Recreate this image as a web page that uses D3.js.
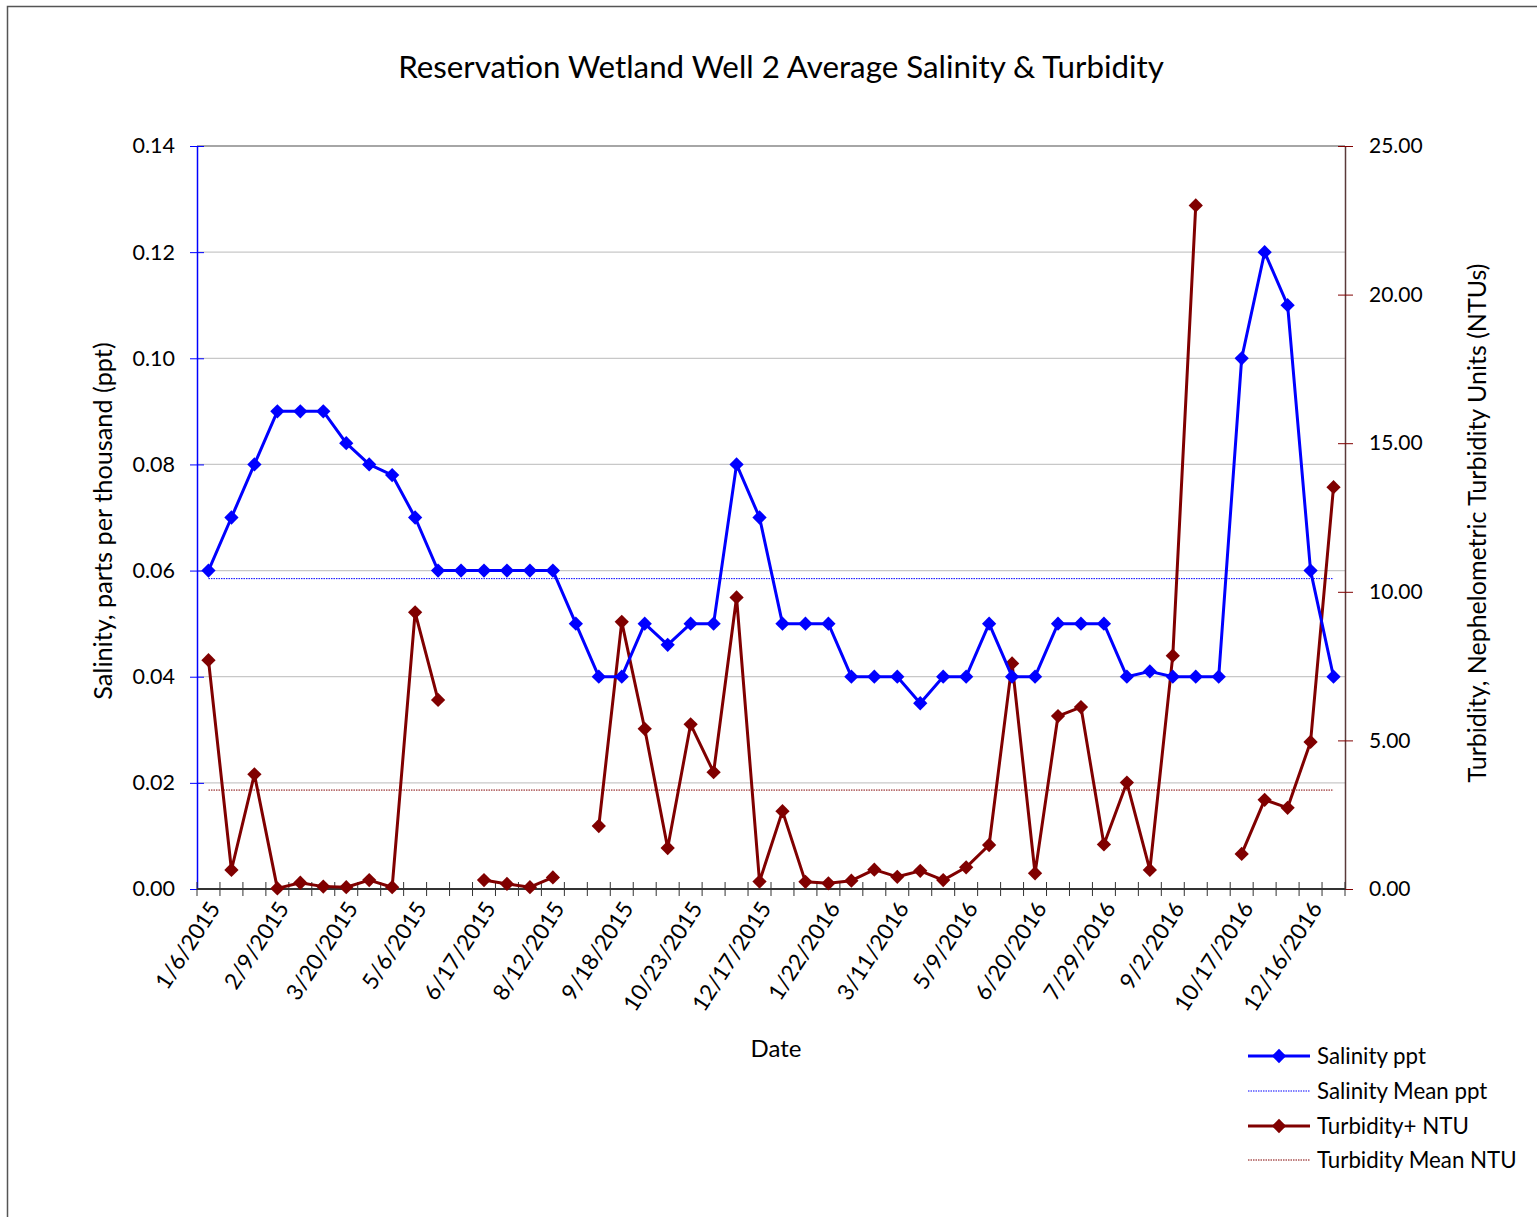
<!DOCTYPE html>
<html>
<head>
<meta charset="utf-8">
<script src="https://cdn.jsdelivr.net/npm/d3@7"></script>
<style>
  html, body { margin: 0; padding: 0; background: #fff; }
  svg { display: block; }
  text { font-family: Lato, "Open Sans", sans-serif; fill: #000; }
</style>
</head>
<body>
<svg id="chart" width="1537" height="1217"></svg>
<script>
// ---------------- data ----------------
const chartTitle = "Reservation Wetland Well 2 Average Salinity & Turbidity";
// labelled dates (every third sampling date is labelled on the axis)
const tickLabels = ["1/6/2015","2/9/2015","3/20/2015","5/6/2015","6/17/2015","8/12/2015",
  "9/18/2015","10/23/2015","12/17/2015","1/22/2016","3/11/2016","5/9/2016","6/20/2016",
  "7/29/2016","9/2/2016","10/17/2016","12/16/2016"];
const labelEvery = 3;
// salinity (ppt), one value per sampling date
const salinity = [0.06,0.07,0.08,0.09,0.09,0.09,0.084,0.08,0.078,0.07,
  0.06,0.06,0.06,0.06,0.06,0.06,0.05,0.04,0.04,0.05,
  0.046,0.05,0.05,0.08,0.07,0.05,0.05,0.05,0.04,0.04,
  0.04,0.035,0.04,0.04,0.05,0.04,0.04,0.05,0.05,0.05,
  0.04,0.041,0.04,0.04,0.04,0.10,0.12,0.11,0.06,0.04];
// turbidity (NTU), null = no reading
const turbidity = [7.70,0.64,3.86,0.02,0.21,0.08,0.06,0.30,0.06,9.31,
  6.36,null,0.30,0.17,0.06,0.39,null,2.12,8.99,5.39,
  1.38,5.54,3.93,9.81,0.25,2.62,0.24,0.19,0.28,0.65,
  0.41,0.61,0.30,0.73,1.48,7.59,0.53,5.82,6.12,1.50,
  3.58,0.64,7.85,23.0,null,1.18,3.00,2.73,4.95,13.52];
const salTicks = [0,0.02,0.04,0.06,0.08,0.10,0.12,0.14];
const turbTicks = [0,5,10,15,20,25];
const legendItems = ["Salinity ppt","Salinity Mean ppt","Turbidity+ NTU","Turbidity Mean NTU"];

// ---------------- layout ----------------
const svg = d3.select("#chart");
const L = 197, R = 1345, T = 146, B = 889;
const blue = "#0000FF", red = "#800000";
const categories = salinity.map((d, i) => i);

const x = d3.scaleBand().domain(categories).range([L, R]).paddingInner(0).paddingOuter(0);
const cx = i => x(i) + x.bandwidth() / 2;
const yL = d3.scaleLinear().domain([0, 0.14]).range([B, T]);
const yR = d3.scaleLinear().domain([0, 25]).range([B, T]);

// outer frame
svg.append("path").attr("d", `M7.5,1217 V6.5 H1537`).attr("fill", "none")
  .attr("stroke", "#555").attr("stroke-width", 1.5);

// title
svg.append("text").attr("x", 781).attr("y", 78).attr("text-anchor", "middle")
  .style("font-size", "31.3px").text(chartTitle);

// gridlines
svg.append("g").selectAll("line").data(salTicks.filter(t => t > 0 && t < 0.14)).join("line")
  .attr("x1", L).attr("x2", R).attr("y1", d => yL(d)).attr("y2", d => yL(d))
  .attr("stroke", "#c8c8c8").attr("stroke-width", 1.2);
// top border
svg.append("line").attr("x1", L).attr("x2", R).attr("y1", T).attr("y2", T)
  .attr("stroke", "#888").attr("stroke-width", 1.5);

// left axis
const axL = svg.append("g").attr("transform", `translate(${L},0)`)
  .call(d3.axisLeft(yL).tickValues(salTicks).tickFormat(d3.format(".2f")).tickSizeInner(7).tickSizeOuter(0));
axL.select(".domain").attr("stroke", blue).attr("stroke-width", 1.5);
axL.selectAll(".tick line").attr("stroke", blue).attr("x2", -7).attr("x1", 7);
axL.selectAll(".tick text").attr("x", -22).style("font-size", "21.5px").style("font-family", "Lato").attr("fill", "#000");

// right axis
const axR = svg.append("g").attr("transform", `translate(${R},0)`)
  .call(d3.axisRight(yR).tickValues(turbTicks).tickFormat(d3.format(".2f")).tickSizeInner(7).tickSizeOuter(0));
axR.select(".domain").attr("stroke", "#5a3a3a").attr("stroke-width", 1.5);
axR.selectAll(".tick line").attr("stroke", red).attr("x1", -7).attr("x2", 8);
axR.selectAll(".tick text").attr("x", 24).style("font-size", "21px").style("font-family", "Lato").attr("fill", "#000");

// bottom axis line and boundary ticks
const boundaries = categories.map(i => x(i)).concat([R]);
svg.append("g").selectAll("line").data(boundaries).join("line")
  .attr("x1", d => d).attr("x2", d => d).attr("y1", B - 7).attr("y2", B + 7)
  .attr("stroke", "#333").attr("stroke-width", 1);
svg.append("line").attr("x1", L).attr("x2", R).attr("y1", B).attr("y2", B)
  .attr("stroke", "#333").attr("stroke-width", 2);

// x tick labels
svg.append("g").selectAll("text").data(tickLabels).join("text")
  .attr("text-anchor", "end")
  .attr("transform", (d, k) => `translate(${cx(k * labelEvery) + 6},${B + 15}) rotate(-57)`)
  .attr("dy", "0.35em")
  .style("font-size", "22.5px").text(d => d);

// axis titles
svg.append("text").attr("x", 776).attr("y", 1057).attr("text-anchor", "middle")
  .style("font-size", "24px").text("Date");
svg.append("text").attr("transform", `translate(112,521) rotate(-90)`).attr("text-anchor", "middle")
  .style("font-size", "25.3px").text("Salinity, parts per thousand (ppt)");
svg.append("text").attr("transform", `translate(1486,523) rotate(-90)`).attr("text-anchor", "middle")
  .style("font-size", "25px").text("Turbidity, Nephelometric Turbidity Units (NTUs)");

// mean lines
const salMean = d3.mean(salinity);
const turbMean = d3.mean(turbidity.filter(d => d != null));
svg.append("line").attr("x1", cx(0)).attr("x2", cx(categories.length - 1))
  .attr("y1", yL(salMean)).attr("y2", yL(salMean))
  .attr("stroke", blue).attr("stroke-width", 1).attr("stroke-dasharray", "1.5,1");
svg.append("line").attr("x1", cx(0)).attr("x2", cx(categories.length - 1))
  .attr("y1", yR(turbMean)).attr("y2", yR(turbMean))
  .attr("stroke", red).attr("stroke-width", 1).attr("stroke-dasharray", "1.5,1");

// series
const diamond = d3.symbol().type(d3.symbolDiamond2).size(130);
function drawSeries(values, scale, color) {
  const line = d3.line().defined(d => d != null).x((d, i) => cx(i)).y(d => scale(d));
  svg.append("path").datum(values).attr("d", line).attr("fill", "none")
    .attr("stroke", color).attr("stroke-width", 3).attr("stroke-linejoin", "round");
  svg.append("g").selectAll("path").data(values.map((v, i) => ({v, i})).filter(d => d.v != null)).join("path")
    .attr("d", diamond).attr("transform", d => `translate(${cx(d.i)},${scale(d.v)})`)
    .attr("fill", color);
}
drawSeries(turbidity, yR, red);
drawSeries(salinity, yL, blue);

// legend
const lg = svg.append("g");
const rowsY = [1056, 1091, 1126, 1160];
legendItems.forEach((name, k) => {
  const y = rowsY[k];
  const color = k < 2 ? blue : red;
  if (k % 2 === 0) {
    lg.append("line").attr("x1", 1248).attr("x2", 1310).attr("y1", y).attr("y2", y)
      .attr("stroke", color).attr("stroke-width", 3);
    lg.append("path").attr("d", diamond).attr("transform", `translate(1279,${y})`).attr("fill", color);
  } else {
    lg.append("line").attr("x1", 1248).attr("x2", 1310).attr("y1", y).attr("y2", y)
      .attr("stroke", color).attr("stroke-width", 1).attr("stroke-dasharray", "1.5,1");
  }
  lg.append("text").attr("x", 1317).attr("y", y).attr("dy", "0.35em")
    .style("font-size", "22.3px").text(name);
});
</script>
</body>
</html>
